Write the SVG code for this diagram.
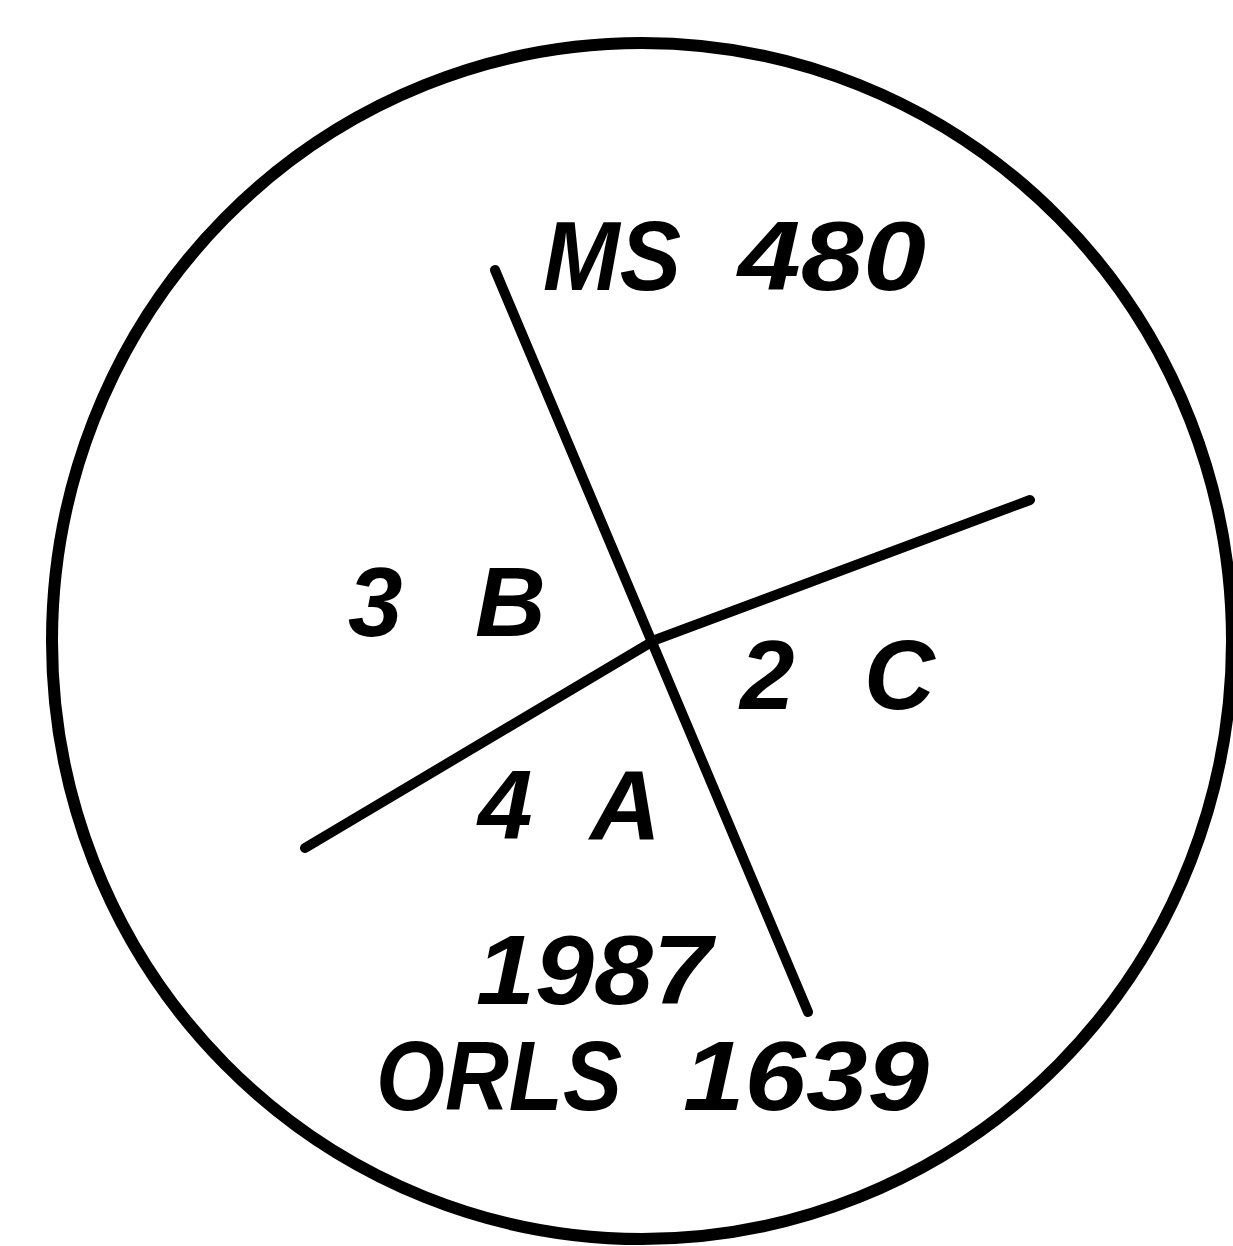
<svg xmlns="http://www.w3.org/2000/svg" width="1233" height="1246" viewBox="0 0 1233 1246">
<style>
.lbl{font-family:"Liberation Sans",Arial,sans-serif;font-weight:bold;font-style:italic;font-size:98px;fill:#000}
.ln{fill:none;stroke:#000;stroke-width:10;stroke-linecap:round;stroke-linejoin:round}
</style>
<rect width="1233" height="1246" fill="#fff"/>
<g id="circle">
<ellipse cx="642" cy="641" rx="590" ry="598" fill="none" stroke="#000" stroke-width="12"/>
</g>
<g id="connectors">
<line class="ln" x1="495" y1="270" x2="808" y2="1012"/>
<polyline class="ln" points="305,848 655,640 1030,500"/>
</g>
<g id="labels">
<text class="lbl" y="290"><tspan x="543" textLength="138" lengthAdjust="spacingAndGlyphs">MS</tspan><tspan x="738" textLength="188" lengthAdjust="spacingAndGlyphs">480</tspan></text>
<text class="lbl" y="636"><tspan x="348">3</tspan><tspan x="475">B</tspan></text>
<text class="lbl" y="709"><tspan x="740">2</tspan><tspan x="864">C</tspan></text>
<text class="lbl" y="839"><tspan x="478">4</tspan><tspan x="590">A</tspan></text>
<text class="lbl" x="476" y="1004" textLength="236" lengthAdjust="spacingAndGlyphs">1987</text>
<text class="lbl" y="1110"><tspan x="376" textLength="246" lengthAdjust="spacingAndGlyphs">ORLS</tspan><tspan x="683" textLength="246" lengthAdjust="spacingAndGlyphs">1639</tspan></text>
</g>
</svg>
